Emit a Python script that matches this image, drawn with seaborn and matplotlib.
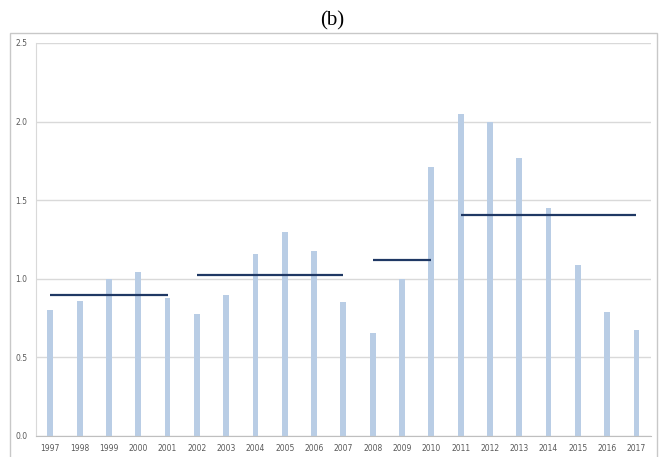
import matplotlib
matplotlib.use("Agg")
import matplotlib.pyplot as plt
import matplotlib.patches as patches
import seaborn as sns
import pandas as pd

# Data
years = [str(y) for y in range(1997, 2018)]
values = [0.80, 0.86, 1.00, 1.045, 0.88, 0.775, 0.895, 1.155, 1.30, 1.175,
          0.85, 0.655, 1.00, 1.71, 2.05, 2.00, 1.77, 1.45, 1.09, 0.79, 0.675]

# Period means drawn as horizontal segments (start year, end year, level)
period_start = ["1997", "2002", "2008", "2011"]
period_end = ["2001", "2007", "2010", "2017"]
period_level = [0.895, 1.025, 1.12, 1.405]

BAR_COLOR = "#B9CDE5"
LINE_COLOR = "#1F3864"
GRID_COLOR = "#D9D9D9"
TEXT_COLOR = "#595959"


def main():
    sns.set_style("white")
    df = pd.DataFrame({"year": years, "value": values})

    fig = plt.figure(figsize=(6.61, 4.57), dpi=100)
    ax = fig.add_axes([0.054, 0.046, 0.931, 0.860])

    sns.barplot(data=df, x="year", y="value", color=BAR_COLOR, width=0.2,
                saturation=1, linewidth=0, ax=ax, zorder=2)

    # Period averages
    for s, e, lvl in zip(period_start, period_end, period_level):
        ax.hlines(lvl, years.index(s), years.index(e), color=LINE_COLOR,
                  linewidth=1.6, zorder=3)

    ax.set_xlim(-0.5, len(years) - 0.5)
    ax.set_ylim(0, 2.5)
    ax.set_yticks([0.0, 0.5, 1.0, 1.5, 2.0, 2.5])
    ax.set_yticklabels([f"{v:.1f}" for v in [0.0, 0.5, 1.0, 1.5, 2.0, 2.5]])
    ax.set_xlabel("")
    ax.set_ylabel("")

    ax.yaxis.grid(True, color=GRID_COLOR, linewidth=1.0, zorder=0)
    ax.set_axisbelow(True)
    for side in ["top", "right"]:
        ax.spines[side].set_visible(False)
    ax.spines["left"].set_color(GRID_COLOR)
    ax.spines["bottom"].set_color("#BFBFBF")

    ax.tick_params(axis="both", labelsize=5.5, colors=TEXT_COLOR, length=3,
                   width=0.6, pad=3)
    ax.tick_params(axis="x", length=0, pad=6)
    ax.tick_params(axis="y", color=GRID_COLOR)
    # Excel-like tick marks between categories
    ax.set_xticks([i + 0.5 for i in range(len(years) - 1)], minor=True)
    ax.tick_params(axis="x", which="minor", length=3, color="#BFBFBF")

    # Outer chart border
    fig.patches.append(patches.Rectangle((10 / 661, -0.02), 647 / 661, 1 - 33 / 457 + 0.02,
                                         transform=fig.transFigure, fill=False,
                                         edgecolor="#C8C8C8", linewidth=1.0))

    fig.text(0.503, 0.955, "(b)", ha="center", va="center", fontsize=15,
             family="Liberation Serif", color="black")

    fig.savefig("out.png", dpi=100)


if __name__ == "__main__":
    main()
